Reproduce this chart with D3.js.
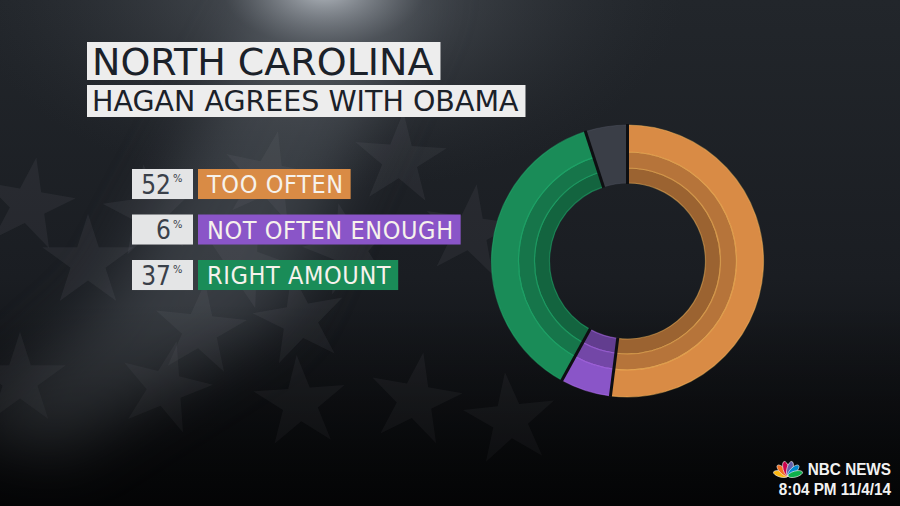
<!DOCTYPE html>
<html>
<head>
<meta charset="utf-8">
<script src="https://cdn.jsdelivr.net/npm/d3@7"></script>
<style>
  html, body { margin: 0; padding: 0; background: #15181c; }
  svg { display: block; }
</style>
</head>
<body>
<svg id="chart" width="900" height="506"></svg>
<script>
// data
var title = "NORTH CAROLINA";
var subtitle = "HAGAN AGREES WITH OBAMA";
var categories = ["TOO OFTEN", "NOT OFTEN ENOUGH", "RIGHT AMOUNT"];
var shares = [52, 6, 37];
var otherShare = 5; // grey slice, no label
var colors = ["#d98b45", "#8a55c8", "#1a8c58"];
var otherColor = "#3a3e47";
var stamp = "8:04 PM 11/4/14";

var svg = d3.select("#chart"),
    width = +svg.attr("width"),
    height = +svg.attr("height");

var defs = svg.append("defs");

// ---- background ----
var bg = defs.append("linearGradient").attr("id", "bg")
    .attr("x1", 0).attr("y1", 0).attr("x2", 0).attr("y2", 1);
bg.append("stop").attr("offset", "0%").attr("stop-color", "#22262b");
bg.append("stop").attr("offset", "55%").attr("stop-color", "#1a1d22");
bg.append("stop").attr("offset", "100%").attr("stop-color", "#08090b");

var spot = defs.append("radialGradient").attr("id", "spot")
    .attr("cx", 0.36).attr("cy", -0.02).attr("r", 0.4);
spot.append("stop").attr("offset", "0%").attr("stop-color", "#d4dae1").attr("stop-opacity", 0.8);
spot.append("stop").attr("offset", "28%").attr("stop-color", "#7d838b").attr("stop-opacity", 0.32);
spot.append("stop").attr("offset", "100%").attr("stop-color", "#3a3e44").attr("stop-opacity", 0);

defs.append("filter").attr("id", "blur")
    .attr("x", "-50%").attr("y", "-50%").attr("width", "200%").attr("height", "200%")
  .append("feGaussianBlur").attr("stdDeviation", 30);

svg.append("rect").attr("width", width).attr("height", height).attr("fill", "url(#bg)");

// soft diagonal light band across the flag
svg.append("path")
    .attr("d", "M280,-20 L430,-20 L280,320 L60,460 L-40,430 L110,300 Z")
    .attr("fill", "#5d636b")
    .attr("opacity", 0.45)
    .attr("filter", "url(#blur)");

svg.append("rect").attr("width", width).attr("height", height).attr("fill", "url(#spot)");

// faint flag stars
var stars = [
  [28, 205, 10], [150, 212, -8], [268, 178, 12], [400, 160, 4],
  [88, 262, 0], [242, 262, 20], [350, 250, -14], [470, 232, 8],
  [200, 330, 6], [300, 320, -10], [165, 388, 14], [300, 403, -4],
  [415, 400, 10], [510, 420, -6], [20, 380, 0]
];
var starPath = d3.symbol().type(d3.symbolStar).size(2600);
svg.append("g").selectAll("path")
  .data(stars)
  .enter().append("path")
    .attr("d", starPath)
    .attr("transform", function(d) { return "translate(" + d[0] + "," + d[1] + ") rotate(" + d[2] + ")"; })
    .attr("fill", "#8a8e94")
    .attr("opacity", 0.1);

// darken bottom a bit more
var vig = defs.append("linearGradient").attr("id", "vig")
    .attr("x1", 0).attr("y1", 0).attr("x2", 0).attr("y2", 1);
vig.append("stop").attr("offset", "60%").attr("stop-color", "#000").attr("stop-opacity", 0);
vig.append("stop").attr("offset", "100%").attr("stop-color", "#000").attr("stop-opacity", 0.55);
svg.append("rect").attr("width", width).attr("height", height).attr("fill", "url(#vig)");

// ---- title boxes ----
function titleBox(text, x, yTop, size, boxH) {
  var g = svg.append("g");
  var r = g.append("rect").attr("x", x).attr("y", yTop).attr("height", boxH).attr("fill", "#ededed");
  var t = g.append("text")
      .attr("x", x + 5)
      .attr("y", yTop + boxH / 2)
      .attr("dy", "0.36em")
      .attr("font-family", "DejaVu Sans")
      .attr("font-size", size)
      .attr("fill", "#1b2129")
      .text(text);
  r.attr("width", t.node().getComputedTextLength() + 12);
}
titleBox(title, 87, 42, 38, 38);
titleBox(subtitle, 87, 85, 28.5, 32);

// ---- legend ----
var rowY = d3.scaleBand()
    .domain(categories)
    .range([169, 169 + 45.5 * 2.66])
    .paddingInner(0.34);

var rows = svg.append("g").selectAll("g")
  .data(categories)
  .enter().append("g")
    .attr("transform", function(d) { return "translate(0," + rowY(d) + ")"; });

rows.append("rect")
    .attr("x", 132).attr("width", 61)
    .attr("height", rowY.bandwidth())
    .attr("fill", "#e4e5e6");

rows.append("text")
    .attr("x", 171)
    .attr("y", rowY.bandwidth() / 2)
    .attr("dy", "0.37em")
    .attr("text-anchor", "end")
    .attr("font-family", "DejaVu Sans Condensed")
    .attr("font-size", 26)
    .attr("fill", "#3a4049")
    .text(function(d, i) { return shares[i]; });

rows.append("text")
    .attr("x", 173)
    .attr("y", rowY.bandwidth() / 2 - 2)
    .attr("font-family", "DejaVu Sans Condensed")
    .attr("font-size", 11)
    .attr("fill", "#3a4049")
    .text("%");

rows.each(function(d, i) {
  var g = d3.select(this);
  var box = g.append("rect")
      .attr("x", 198)
      .attr("height", rowY.bandwidth())
      .attr("fill", colors[i]);
  var t = g.append("text")
      .attr("x", 207)
      .attr("y", rowY.bandwidth() / 2)
      .attr("dy", "0.37em")
      .attr("font-family", "DejaVu Sans Condensed")
      .attr("font-size", 25)
      .attr("letter-spacing", 0.6)
      .attr("fill", "#f6f2ec")
      .text(d);
  box.attr("width", t.node().getComputedTextLength() + 16);
});

// ---- donut ----
var cx = 627.5, cy = 261;
var radii = [78, 93, 109, 136];
var bandDark = [0.95, 0.5, 0]; // inner -> outer

var pieData = categories.map(function(c, i) { return {name: c, value: shares[i], color: colors[i]}; });
pieData.push({name: "other", value: otherShare, color: otherColor});

var pie = d3.pie().sort(null).value(function(d) { return d.value; });
var arcs = pie(pieData);

var donut = svg.append("g").attr("transform", "translate(" + cx + "," + cy + ")");
var arc = d3.arc();

arcs.forEach(function(a) {
  var bands = a.data.name === "other" ? [[radii[0], radii[3], 0]] :
    [0, 1, 2].map(function(k) { return [radii[k], radii[k + 1], bandDark[k]]; });
  donut.append("g").selectAll("path")
    .data(bands)
    .enter().append("path")
      .attr("d", function(b) {
        return arc({innerRadius: b[0], outerRadius: b[1], startAngle: a.startAngle, endAngle: a.endAngle});
      })
      .attr("fill", function(b) { return d3.color(a.data.color).darker(b[2]); })
      .attr("stroke", function(b) { return d3.color(a.data.color).brighter(0.9); })
      .attr("stroke-opacity", 0.45)
      .attr("stroke-width", 1.2);
});

// dark gaps between slices
donut.append("g").selectAll("line")
  .data(arcs)
  .enter().append("line")
    .attr("x1", function(d) { return (radii[0] - 1) * Math.sin(d.startAngle); })
    .attr("y1", function(d) { return -(radii[0] - 1) * Math.cos(d.startAngle); })
    .attr("x2", function(d) { return (radii[3] + 1) * Math.sin(d.startAngle); })
    .attr("y2", function(d) { return -(radii[3] + 1) * Math.cos(d.startAngle); })
    .attr("stroke", "#0e0f12")
    .attr("stroke-width", 3);

// ---- NBC bug ----
var bug = svg.append("g");
var feathers = ["#fcb711", "#f37021", "#cc004c", "#6460aa", "#0089d0", "#0db14b"];
var fAngle = d3.scaleLinear().domain([0, feathers.length - 1]).range([-75, 75]);
bug.append("g")
    .attr("transform", "translate(788,476)")
  .selectAll("ellipse")
  .data(feathers)
  .enter().append("ellipse")
    .attr("cx", 0).attr("cy", -7.5)
    .attr("rx", 3).attr("ry", 7.5)
    .attr("transform", function(d, i) { return "rotate(" + fAngle(i) + ")"; })
    .attr("fill", function(d) { return d; })
    .attr("stroke", "#f4f4f4")
    .attr("stroke-width", 0.6);

bug.append("text")
    .attr("transform", "translate(891,474.5) scale(0.9,1)")
    .attr("text-anchor", "end")
    .attr("font-family", "Liberation Sans")
    .attr("font-weight", "bold")
    .attr("font-size", 17)
    .attr("fill", "#f2f2f2")
    .text("NBC NEWS");

bug.append("text")
    .attr("transform", "translate(891,494.5) scale(0.9,1)")
    .attr("text-anchor", "end")
    .attr("font-family", "Liberation Sans")
    .attr("font-weight", "bold")
    .attr("font-size", 17)
    .attr("fill", "#f2f2f2")
    .text(stamp);
</script>
</body>
</html>
